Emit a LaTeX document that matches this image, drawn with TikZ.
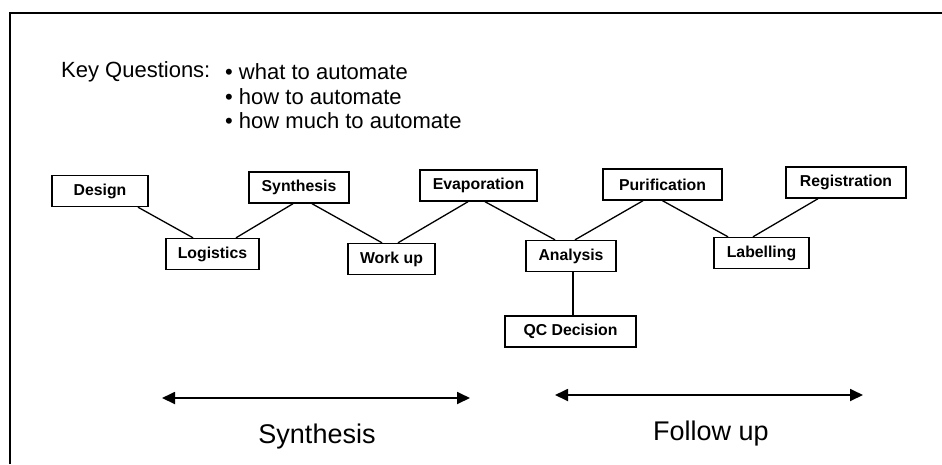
\documentclass[tikz,border=0pt]{standalone}
\usepackage{fontspec}
\setmainfont{Liberation Sans}
\usetikzlibrary{arrows.meta}
\tikzset{
  stagebox/.style={draw, line width=1.4pt, inner sep=0pt, minimum height=31pt,
    font=\fontsize{15.8}{15.8}\selectfont\bfseries},
  link/.style={line width=1.3pt},
  span/.style={line width=1.8pt, {Triangle[length=13pt,width=12pt]}-{Triangle[length=13pt,width=12pt]}},
  phase/.style={font=\fontsize{27}{27}\selectfont},
  question/.style={font=\fontsize{22}{22}\selectfont, anchor=west, inner sep=0pt}
}
\begin{document}
\begin{tikzpicture}[x=1pt,y=-1pt]
\useasboundingbox (0,0) rectangle (942,464);
\fill[white] (0,0) rectangle (942,464);
% frame edges
\draw[line width=2.2pt] (10,464) -- (10,13) -- (942,13);

% key questions
\node[question] (kq) at (61,72) {Key Questions:};
\node[question] (q1) at (225,72) {\textbullet\ what to automate};
\node[question] (q2) at (225,97) {\textbullet\ how to automate};
\node[question] (q3) at (225,121) {\textbullet\ how much to automate};

% process stages
\node[stagebox, minimum width=96pt]  (design) at (100,191) {Design};
\node[stagebox, minimum width=93pt]  (logist) at (212.5,254) {Logistics};
\node[stagebox, minimum width=100pt] (synth)  at (299,187.5) {Synthesis};
\node[stagebox, minimum width=87pt]  (workup) at (391.5,259) {Work up};
\node[stagebox, minimum width=117pt] (evap)   at (478.5,185.5) {Evaporation};
\node[stagebox, minimum width=90pt]  (anal)   at (571,256) {Analysis};
\node[stagebox, minimum width=119pt] (purif)  at (662.5,184.5) {Purification};
\node[stagebox, minimum width=95pt]  (label)  at (761.5,253) {Labelling};
\node[stagebox, minimum width=120pt] (regist) at (846,182.5) {Registration};
\node[stagebox, minimum width=131pt] (qc)     at (570.5,331.5) {QC Decision};

% zig-zag links
\draw[link] ([xshift=38pt]design.south) -- ([xshift=-19.5pt]logist.north);
\draw[link] ([xshift=23.5pt]logist.north) -- ([xshift=-6pt]synth.south);
\draw[link] ([xshift=13pt]synth.south) -- ([xshift=-9.5pt]workup.north);
\draw[link] ([xshift=6.5pt]workup.north) -- ([xshift=-10.5pt]evap.south);
\draw[link] ([xshift=6.5pt]evap.south) -- ([xshift=-16pt]anal.north);
\draw[link] ([xshift=4pt]anal.north) -- ([xshift=-19.5pt]purif.south);
\draw[link] (purif.south) -- ([xshift=-33.5pt]label.north);
\draw[link] ([xshift=-8.5pt]label.north) -- ([xshift=-28pt]regist.south);
\draw[link] ([xshift=2pt]anal.south) -- ([xshift=2.5pt]qc.north);

% phase spans
\coordinate (sL) at (162,398);
\coordinate (sR) at (470,398);
\coordinate (fL) at (555,395);
\coordinate (fR) at (863,395);
\draw[span] (sL) -- (sR);
\draw[span] (fL) -- (fR);
\node[phase] (synlab) at (317,437) {Synthesis};
\node[phase] (follab) at (711,434) {Follow up};
\end{tikzpicture}
\end{document}
